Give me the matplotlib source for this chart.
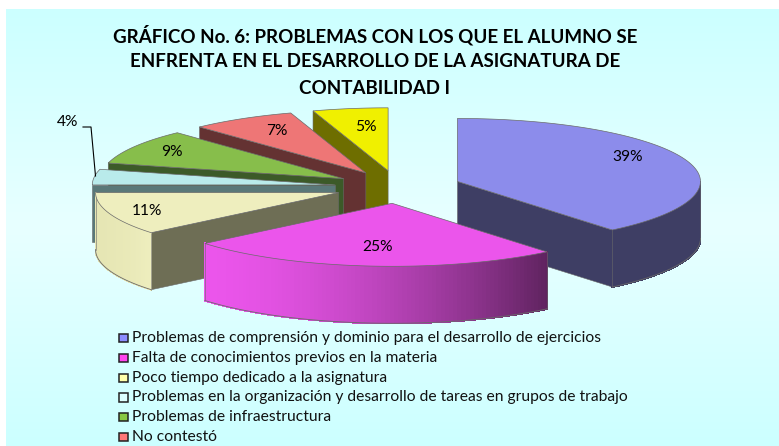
import numpy as np
import matplotlib
matplotlib.use('Agg')
import matplotlib.pyplot as plt
from matplotlib.patches import Polygon, Rectangle

title_lines = ['GRÁFICO No. 6: PROBLEMAS CON LOS QUE EL ALUMNO SE',
               'ENFRENTA EN EL DESARROLLO DE LA ASIGNATURA DE',
               'CONTABILIDAD I']
categories = ['Problemas de comprensión y dominio para el desarrollo de ejercicios',
              'Falta de conocimientos previos en la materia',
              'Poco tiempo dedicado a la asignatura',
              'Problemas en la organización y desarrollo de tareas en grupos de trabajo',
              'Problemas de infraestructura',
              'No contestó']
# the yellow slice has no legend row in the picture, it is cut off by the edge
values = [39, 25, 11, 4, 9, 7, 5]
top_colors = ['#8C8CEB', '#EB55EB', '#EEEEBE', '#B9EBEB', '#87BE4B', '#EE7676', '#F0F000']
face_colors = ['#3E3E64', '#5F235F', '#6E6E55', '#5A7878', '#3C5A28', '#643232', '#6E6E00']
side_left = ['#3E3E64', '#EB55EB', '#E6E6B4', '#5A7878', '#3C5A28', '#643232', '#6E6E00']
side_right = ['#3E3E64', '#5F235F', '#EEEEBE', '#5A7878', '#3C5A28', '#643232', '#6E6E00']
legend_colors = ['#8C8CFF', '#FF44EE', '#FFFFAA', '#DDFFFF', '#88C844', '#FF7777']
label_xy = [(628, 157), (378, 247), (147, 211), (68, 122), (172, 152), (277, 131), (366, 127)]

# pie geometry in image pixels
cx, cy = 398, 187
a, b = 243, 63
depth = 57
explode = 0.26
edge = '#6A6A6A'
font = 'Lato'


def pt(x0, y0, ang):
    r = np.radians(ang)
    return x0 + a * np.sin(r), y0 - b * np.cos(r)


def mix(c1, c2, t):
    c1 = np.array(matplotlib.colors.to_rgb(c1))
    c2 = np.array(matplotlib.colors.to_rgb(c2))
    return c1 + (c2 - c1) * t


fig = plt.figure(figsize=(7.79, 4.46), dpi=100)
ax = fig.add_axes([0, 0, 1, 1])
ax.set_xlim(0, 779)
ax.set_ylim(446, 0)
ax.axis('off')

# background
grad = np.array([[204, 255, 255], [232, 255, 255], [204, 255, 255]]) / 255
rows = np.linspace(0, 2, 200)
img = np.stack([np.interp(rows, [0, 1, 2], grad[:, i]) for i in range(3)], axis=1)[:, None, :]
ax.imshow(img, extent=[6, 779, 446, 9], aspect='auto', zorder=0)
ax.set_xlim(0, 779)
ax.set_ylim(446, 0)

ends = np.cumsum(values) * 3.6
starts = ends - np.array(values) * 3.6
z = 1
for i in [6, 5, 4, 3, 2, 0, 1]:
    t1, t2 = starts[i], ends[i]
    mid = (t1 + t2) / 2
    x0, y0 = pt(cx, cy, mid)
    x0 = cx + (x0 - cx) * explode
    y0 = cy + (y0 - cy) * explode

    # flat faces of the cut, only the ones turned to the viewer
    for ang, show in [(t1, t1 > 180), (t2, t2 < 180)]:
        if show:
            x1, y1 = pt(x0, y0, ang)
            ax.add_patch(Polygon([(x0, y0), (x1, y1), (x1, y1 + depth), (x0, y0 + depth)],
                                 fc=face_colors[i], ec=edge, lw=0.4, zorder=z))
            z += 1

    # round outer side, no antialiasing or the strips show as stripes
    lo, hi = max(t1, 90), min(t2, 270)
    if hi > lo:
        angs = np.linspace(lo, hi, 90)
        xs, ys = pt(x0, y0, angs)
        xmin, xmax = xs.min(), xs.max()
        for j in range(len(angs) - 1):
            t = ((xs[j] + xs[j + 1]) / 2 - xmin) / (xmax - xmin)
            col = mix(side_left[i], side_right[i], t ** 1.6)
            ax.add_patch(Polygon([(xs[j], ys[j]), (xs[j + 1], ys[j + 1]),
                                  (xs[j + 1], ys[j + 1] + depth), (xs[j], ys[j] + depth)],
                                 fc=col, ec=col, lw=0.8, antialiased=False, zorder=z))
        ax.plot(xs, ys + depth, color=edge, lw=0.6, zorder=z + 0.5)
        ax.plot([xs[0], xs[0]], [ys[0], ys[0] + depth], color=edge, lw=0.4, zorder=z + 0.5)
        ax.plot([xs[-1], xs[-1]], [ys[-1], ys[-1] + depth], color=edge, lw=0.4, zorder=z + 0.5)
        z += 1

    # top
    angs = np.linspace(t1, t2, 90)
    xs, ys = pt(x0, y0, angs)
    ax.add_patch(Polygon(np.vstack([[x0, y0], np.column_stack([xs, ys])]),
                         fc=top_colors[i], ec=edge, lw=0.5, zorder=z))
    z += 1

for v, (lx, ly) in zip(values, label_xy):
    ax.text(lx, ly, f'{v}%', ha='center', va='center', fontsize=11.2, family=font,
            color='black', zorder=50)

# leader of the 4% label
ax.plot([83, 91, 95.5], [127, 127, 176], color='black', lw=0.8, zorder=49)

for k, line in enumerate(title_lines):
    ax.text(375, 35 + k * 26.5, line, ha='center', va='center', fontsize=13.5, family=font,
            fontweight='bold', color='black', zorder=50)

row_y = [338, 358, 378, 397.5, 417, 437]
for name, col, y in zip(categories, legend_colors, row_y):
    ax.add_patch(Rectangle((119.5, y - 4.5), 8.5, 8.5, fc=col, ec='#222222', lw=1.1, zorder=50))
    ax.text(132, y, name, ha='left', va='center', fontsize=11.25, family=font,
            color='#111111', zorder=50)

fig.savefig('out.png', dpi=100, facecolor='white')
